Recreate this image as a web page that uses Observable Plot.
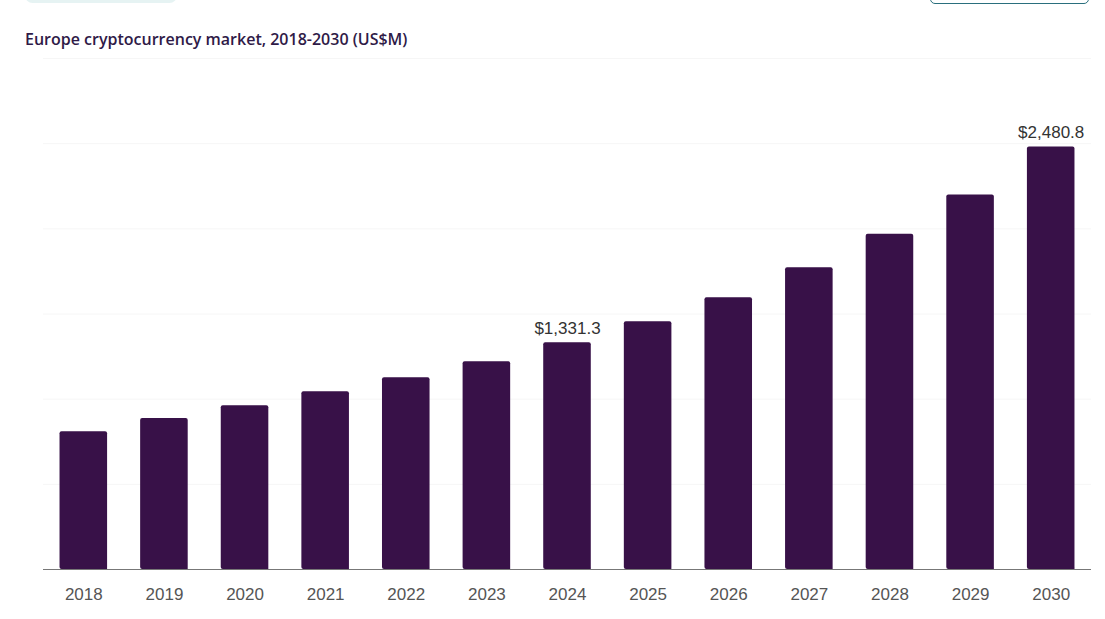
<!DOCTYPE html>
<html>
<head>
<meta charset="utf-8">
<script src="https://cdn.jsdelivr.net/npm/d3@7"></script>
<script src="https://cdn.jsdelivr.net/npm/@observablehq/plot@0.6"></script>
<style>
html,body{margin:0;padding:0;background:#fff;overflow:hidden}
#page{position:relative;width:1105px;height:619px}
#header{position:relative;height:50px}
#pill{position:absolute;left:25px;top:-12px;width:152px;height:15px;border-radius:8px;background:#e6f3f3}
#btn{position:absolute;left:930px;top:-14px;width:157px;height:16px;border:1px solid #2a6f7d;border-radius:5px;box-sizing:content-box}
#title{position:absolute;left:25px;top:29px;font:600 16px/20px "Open Sans",sans-serif;color:#2f1a47;white-space:nowrap}
svg{display:block}
</style>
</head>
<body>
<div id="page">
  <div id="header">
    <div id="pill"></div>
    <div id="btn"></div>
    <div id="title">Europe cryptocurrency market, 2018-2030 (US$M)</div>
  </div>
  <div id="chart"></div>
</div>
<script>
const years = ["2018","2019","2020","2021","2022","2023","2024","2025","2026","2027","2028","2029","2030"];
const values = [809, 886, 962, 1044, 1126, 1220, 1331.3, 1454, 1595, 1771, 1968, 2198, 2480.8];
const labeledYears = ["2024","2030"];
const gridValues = [500, 1000, 1500, 2000, 2500, 3000];
const rows = years.map((year, i) => ({year, value: values[i]}));
const labeled = rows.filter(d => labeledYears.includes(d.year));

const plot = Plot.plot({
  width: 1105,
  height: 569,
  marginTop: 8,
  marginBottom: 50,
  marginLeft: 43,
  marginRight: 14,
  style: {background: "#fff", fontFamily: "'Liberation Sans', Arial, sans-serif"},
  x: {domain: years, round: false, paddingInner: 0.41, paddingOuter: 0.205, label: null, axis: null},
  y: {domain: [0, 3000], axis: null},
  marks: [
    Plot.ruleY(gridValues, {stroke: "#f6f6f6", strokeWidth: 1}),
    Plot.barY(rows, {x: "year", y: "value", fill: "#381148", ry1: 2, rx1: 2}),
    Plot.ruleY([0], {stroke: "#777", strokeWidth: 1}),
    Plot.axisX({anchor: "bottom", tickSize: 0, tickPadding: 18, fontSize: 17, color: "#555", label: null}),
    Plot.text(labeled, {x: "year", y: "value", text: d => "$" + d3.format(",.1f")(d.value), dy: -14, fontSize: 17, fill: "#333"})
  ]
});
document.getElementById("chart").appendChild(plot);
</script>
</body>
</html>
